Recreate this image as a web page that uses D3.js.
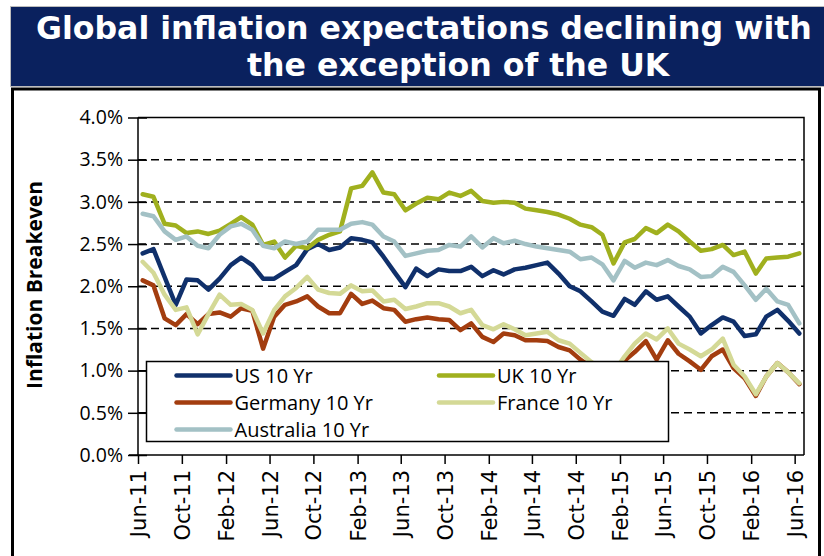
<!DOCTYPE html>
<html>
<head>
<meta charset="utf-8">
<script src="https://cdn.jsdelivr.net/npm/d3@7"></script>
<style>
  html, body { margin: 0; padding: 0; background: #ffffff; }
  svg { display: block; }
</style>
</head>
<body>
<svg id="chart" width="824" height="556"></svg>
<script>
// Monthly 10-year breakeven inflation, Jun-2011 .. Jun-2016 (percent)
const startMonth = new Date(2011, 5, 14);

const usValues = [2.39, 2.44, 2.11, 1.78, 2.08, 2.07, 1.96, 2.09, 2.25, 2.34, 2.25, 2.09, 2.09, 2.17, 2.25,
  2.44, 2.50, 2.43, 2.46, 2.57, 2.55, 2.52, 2.35, 2.17, 1.99, 2.21, 2.12, 2.20, 2.18, 2.18,
  2.23, 2.12, 2.19, 2.14, 2.20, 2.22, 2.25, 2.28, 2.15, 2.00, 1.94, 1.82, 1.70, 1.65, 1.85,
  1.78, 1.94, 1.84, 1.88, 1.76, 1.64, 1.44, 1.54, 1.63, 1.58, 1.41, 1.43, 1.64, 1.72, 1.59, 1.44];

const ukValues = [3.09, 3.06, 2.74, 2.72, 2.63, 2.65, 2.62, 2.66, 2.74, 2.82, 2.73, 2.49, 2.53, 2.34, 2.48,
  2.45, 2.55, 2.61, 2.65, 3.16, 3.19, 3.35, 3.11, 3.09, 2.90, 2.98, 3.05, 3.03, 3.11, 3.07,
  3.13, 3.01, 2.99, 3.00, 2.99, 2.92, 2.90, 2.88, 2.85, 2.80, 2.73, 2.70, 2.61, 2.27, 2.52,
  2.56, 2.69, 2.63, 2.73, 2.65, 2.53, 2.42, 2.44, 2.49, 2.37, 2.41, 2.15, 2.33, 2.34, 2.35, 2.39];

const germanyValues = [2.07, 2.01, 1.62, 1.54, 1.67, 1.55, 1.67, 1.69, 1.64, 1.74, 1.71, 1.26, 1.64, 1.78, 1.82,
  1.88, 1.76, 1.68, 1.68, 1.91, 1.79, 1.83, 1.74, 1.72, 1.58, 1.61, 1.63, 1.61, 1.60, 1.48,
  1.56, 1.40, 1.34, 1.44, 1.42, 1.36, 1.36, 1.35, 1.28, 1.24, 1.13, 1.04, 0.98, 0.94, 1.12,
  1.22, 1.35, 1.13, 1.36, 1.20, 1.11, 1.01, 1.17, 1.25, 1.03, 0.91, 0.70, 0.93, 1.09, 0.98, 0.84];

const franceValues = [2.29, 2.16, 1.90, 1.72, 1.75, 1.43, 1.67, 1.90, 1.78, 1.79, 1.72, 1.44, 1.72, 1.88, 1.98,
  2.11, 1.96, 1.92, 1.91, 2.01, 1.94, 1.95, 1.82, 1.84, 1.73, 1.76, 1.80, 1.80, 1.76, 1.68,
  1.72, 1.54, 1.49, 1.55, 1.49, 1.42, 1.44, 1.46, 1.36, 1.32, 1.21, 1.10, 1.02, 0.98, 1.17,
  1.32, 1.44, 1.37, 1.50, 1.32, 1.25, 1.17, 1.25, 1.38, 1.07, 0.93, 0.72, 0.93, 1.09, 0.98, 0.85];

const australiaValues = [2.86, 2.83, 2.65, 2.55, 2.59, 2.48, 2.45, 2.61, 2.71, 2.74, 2.67, 2.48, 2.45, 2.53, 2.50,
  2.53, 2.67, 2.67, 2.67, 2.74, 2.76, 2.73, 2.59, 2.53, 2.36, 2.39, 2.42, 2.43, 2.49, 2.47,
  2.59, 2.46, 2.57, 2.51, 2.54, 2.50, 2.47, 2.45, 2.43, 2.41, 2.32, 2.34, 2.26, 2.07, 2.30,
  2.22, 2.28, 2.25, 2.31, 2.24, 2.20, 2.11, 2.12, 2.23, 2.17, 2.01, 1.84, 1.97, 1.82, 1.78, 1.56];

const seriesNames = ["US 10 Yr", "UK 10 Yr", "Germany 10 Yr", "France 10 Yr", "Australia 10 Yr"];
const seriesColors = ["#10306b", "#a0b01e", "#a33d0f", "#d4d996", "#a3c1c5"];
const seriesValues = [usValues, ukValues, germanyValues, franceValues, australiaValues];

const xTickLabels = ["Jun-11", "Oct-11", "Feb-12", "Jun-12", "Oct-12", "Feb-13", "Jun-13", "Oct-13",
  "Feb-14", "Jun-14", "Oct-14", "Feb-15", "Jun-15", "Oct-15", "Feb-16", "Jun-16"];
const yTicks = [0, 0.5, 1.0, 1.5, 2.0, 2.5, 3.0, 3.5, 4.0];

const titleLines = ["Global inflation expectations declining with", "the exception of the UK"];
const yAxisTitle = "Inflation Breakeven";

// ---- layout ----
const plot = { left: 138, right: 804, top: 117.5, bottom: 455 };
const svg = d3.select("#chart");

const parseTick = d3.timeParse("%b-%y");
const tickDates = xTickLabels.map(parseTick);
const months = usValues.map((_, i) => d3.timeMonth.offset(startMonth, i));

const x = d3.scaleTime()
  .domain([new Date(2011, 5, 1), new Date(2016, 5, 27)])
  .range([plot.left, plot.right]);
const y = d3.scaleLinear().domain([0, 4]).range([plot.bottom, plot.top]);

// ---- title banner ----
svg.append("rect")
  .attr("x", 10.5).attr("y", 6.5).attr("width", 830).attr("height", 80)
  .attr("fill", "#0a215e").attr("stroke", "#bdbdbd").attr("stroke-width", 1);

const titleX = [36, 247];
const titleY = [39, 76];
titleLines.forEach((t, i) => {
  svg.append("text")
    .attr("x", titleX[i]).attr("y", titleY[i])
    .attr("fill", "#ffffff")
    .attr("font-family", "DejaVu Sans, Verdana, sans-serif")
    .attr("font-weight", "bold")
    .attr("font-size", 31.6)
    .text(t);
});

// ---- chart frame ----
svg.append("rect")
  .attr("x", 12.5).attr("y", 89).attr("width", 807).attr("height", 500)
  .attr("fill", "none").attr("stroke", "#000").attr("stroke-width", 3);

// ---- gridlines ----
const grid = svg.append("g");
grid.selectAll("line.dash")
  .data(yTicks.filter(v => v > 0 && v < 4))
  .join("line")
  .attr("x1", plot.left).attr("x2", plot.right)
  .attr("y1", d => y(d)).attr("y2", d => y(d))
  .attr("stroke", "#000").attr("stroke-width", 1.5)
  .attr("stroke-dasharray", "8,5");

// plot border (top and right)
svg.append("path")
  .attr("d", `M${plot.left},${y(4)}H${plot.right}V${plot.bottom}`)
  .attr("fill", "none").attr("stroke", "#000").attr("stroke-width", 1.5);

// ---- series lines ----
const line = d3.line()
  .x((d, i) => x(months[i]))
  .y(d => y(d));

svg.append("g").selectAll("path")
  .data(seriesValues)
  .join("path")
  .attr("d", d => line(d))
  .attr("fill", "none")
  .attr("stroke", (d, i) => seriesColors[i])
  .attr("stroke-width", 4.5)
  .attr("stroke-linejoin", "round")
  .attr("stroke-linecap", "round");

// ---- axes ----
const yAxis = d3.axisLeft(y)
  .tickValues(yTicks)
  .tickSize(10)
  .tickPadding(5)
  .tickFormat(d => d.toFixed(1) + "%");

const yAxisG = svg.append("g")
  .attr("transform", `translate(${plot.left},0)`)
  .call(yAxis);
yAxisG.select(".domain").attr("stroke", "#000").attr("stroke-width", 1.5)
  .attr("d", `M0,${plot.top}V${plot.bottom}`);
yAxisG.selectAll(".tick line").attr("x1", 9).attr("stroke", "#000").attr("stroke-width", 1.5);
yAxisG.selectAll(".tick text")
  .attr("font-family", "Open Sans, sans-serif")
  .attr("font-size", 19.5)
  .attr("fill", "#000");

const xAxis = d3.axisBottom(x)
  .tickValues(tickDates)
  .tickSize(9)
  .tickFormat(d3.timeFormat("%b-%y"));

const xAxisG = svg.append("g")
  .attr("transform", `translate(0,${plot.bottom})`)
  .call(xAxis);
xAxisG.select(".domain").attr("stroke", "#000").attr("stroke-width", 1.5)
  .attr("d", `M${plot.left - 9},0H${plot.right}`);
xAxisG.selectAll(".tick line").attr("stroke", "#000").attr("stroke-width", 1.5);
xAxisG.selectAll(".tick text")
  .attr("font-family", "DejaVu Sans, Verdana, sans-serif")
  .attr("font-size", 21)
  .attr("fill", "#000")
  .attr("transform", "rotate(-90)")
  .attr("text-anchor", "end")
  .attr("x", -15)
  .attr("y", 0)
  .attr("dy", "0.36em");

// ---- y axis title ----
svg.append("text")
  .attr("transform", "translate(34,285) rotate(-90)")
  .attr("text-anchor", "middle")
  .attr("dominant-baseline", "central")
  .attr("font-family", "Open Sans, sans-serif")
  .attr("font-weight", "bold")
  .attr("font-size", 21)
  .attr("fill", "#000")
  .text(yAxisTitle);

// ---- legend ----
const legend = svg.append("g");
legend.append("rect")
  .attr("x", 146.5).attr("y", 361.5).attr("width", 522).attr("height", 80)
  .attr("fill", "#fff").attr("stroke", "#000").attr("stroke-width", 1.5);

const legendCols = [176.5, 439];
const legendRows = [375.5, 402.5, 429.5];
const legendPos = [[0, 0], [1, 0], [0, 1], [1, 1], [0, 2]];

seriesNames.forEach((name, i) => {
  const [c, r] = legendPos[i];
  const lx = legendCols[c], ly = legendRows[r];
  legend.append("line")
    .attr("x1", lx).attr("x2", lx + 54)
    .attr("y1", ly).attr("y2", ly)
    .attr("stroke", seriesColors[i]).attr("stroke-width", 4.5)
    .attr("stroke-linecap", "round");
  legend.append("text")
    .attr("x", lx + 58).attr("y", ly)
    .attr("dominant-baseline", "central")
    .attr("font-family", "Open Sans, sans-serif")
    .attr("font-size", 20)
    .attr("fill", "#000")
    .text(name);
});
</script>
</body>
</html>
